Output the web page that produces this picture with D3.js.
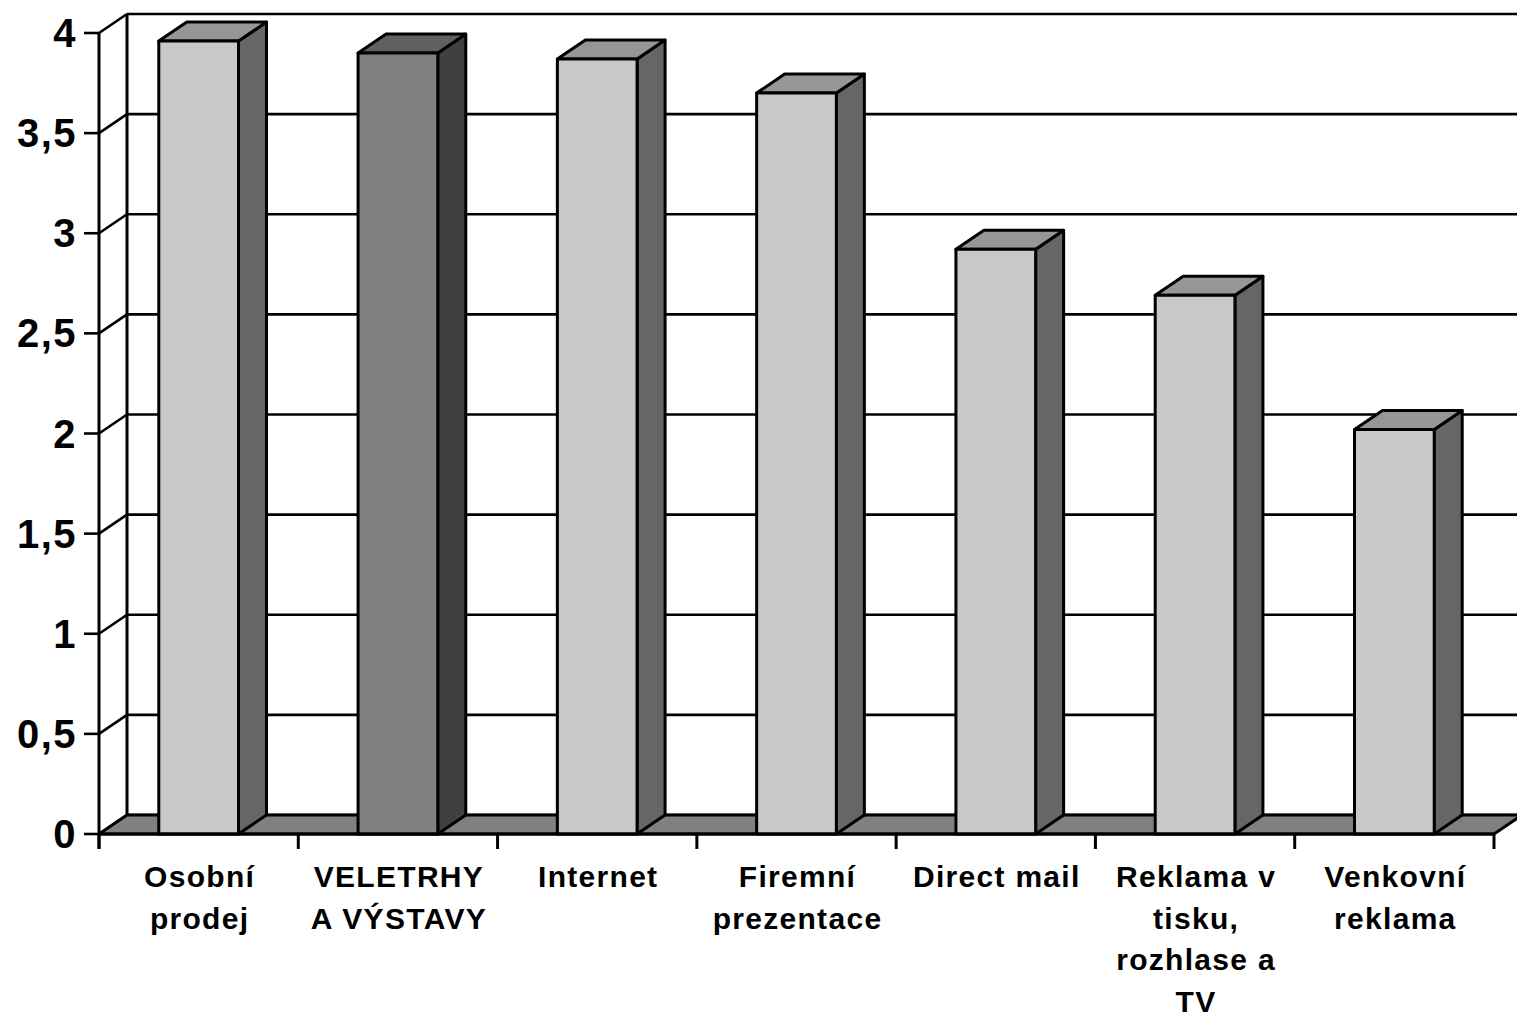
<!DOCTYPE html>
<html>
<head>
<meta charset="utf-8">
<script src="https://cdn.jsdelivr.net/npm/d3@7"></script>
<style>
  html, body { margin: 0; padding: 0; background: #fff; }
  svg { display: block; }
  text { font-family: "Liberation Sans", Arial, sans-serif; font-weight: bold; fill: #000; }
</style>
</head>
<body>
<svg id="chart" width="1517" height="1017"></svg>
<script>
// Categories (label lines) and their values
const categories = [
  ["Osobní", "prodej"],
  ["VELETRHY", "A VÝSTAVY"],
  ["Internet"],
  ["Firemní", "prezentace"],
  ["Direct mail"],
  ["Reklama v", "tisku,", "rozhlase a", "TV"],
  ["Venkovní", "reklama"]
];
const values = [3.96, 3.9, 3.87, 3.7, 2.92, 2.69, 2.02];
const highlighted = [false, true, false, false, false, false, false];
const yTicks = [0, 0.5, 1, 1.5, 2, 2.5, 3, 3.5, 4];
const yTickLabels = ["0", "0,5", "1", "1,5", "2", "2,5", "3", "3,5", "4"];

const svg = d3.select("#chart");

// Front plane geometry and 3D depth offset
const plotLeft = 99, plotRight = 1494, plotBottom = 834, plotTop = 33;
const DX = 28, DY = -19;

const keys = categories.map((c, i) => String(i));
const x = d3.scaleBand().domain(keys).range([plotLeft, plotRight]).paddingInner(0.6).paddingOuter(0.3);
const y = d3.scaleLinear().domain([0, 4]).range([plotBottom, plotTop]);
const step = x.step();

const pal = {
  normal: { front: "#c8c8c8", top: "#969696", side: "#666666" },
  hi: { front: "#808080", top: "#606060", side: "#404040" }
};
const SW = 3;

// Back wall: gridlines and left edge
const back = svg.append("g");
back.selectAll("line.grid").data(yTicks).join("line")
  .attr("x1", plotLeft + DX).attr("x2", 1540)
  .attr("y1", d => y(d) + DY).attr("y2", d => y(d) + DY)
  .attr("stroke", "#000").attr("stroke-width", 2.6);
back.append("line")
  .attr("x1", plotLeft + DX).attr("x2", plotLeft + DX)
  .attr("y1", y(4) + DY).attr("y2", y(0) + DY)
  .attr("stroke", "#000").attr("stroke-width", SW);

// Side wall diagonals at each tick
back.selectAll("line.diag").data(yTicks).join("line")
  .attr("x1", plotLeft).attr("y1", d => y(d))
  .attr("x2", plotLeft + DX).attr("y2", d => y(d) + DY)
  .attr("stroke", "#000").attr("stroke-width", 2.6);

// Floor
svg.append("polygon")
  .attr("points", [[plotLeft, y(0)], [plotRight, y(0)], [plotRight + DX, y(0) + DY], [plotLeft + DX, y(0) + DY]].join(" "))
  .attr("fill", "#808080").attr("stroke", "#000").attr("stroke-width", SW).attr("stroke-linejoin", "round");

// Bars
const bars = svg.append("g");
values.forEach((v, i) => {
  const c = highlighted[i] ? pal.hi : pal.normal;
  const x0 = x(String(i)), x1 = x0 + x.bandwidth();
  const y0 = y(0), y1 = y(v);
  const g = bars.append("g").attr("stroke", "#000").attr("stroke-width", SW).attr("stroke-linejoin", "round");
  g.append("polygon")
    .attr("points", [[x1, y0], [x1 + DX, y0 + DY], [x1 + DX, y1 + DY], [x1, y1]].join(" "))
    .attr("fill", c.side);
  g.append("polygon")
    .attr("points", [[x0, y1], [x1, y1], [x1 + DX, y1 + DY], [x0 + DX, y1 + DY]].join(" "))
    .attr("fill", c.top);
  g.append("rect")
    .attr("x", x0).attr("y", y1).attr("width", x1 - x0).attr("height", y0 - y1)
    .attr("fill", c.front);
});

// Value axis
svg.append("line")
  .attr("x1", plotLeft).attr("x2", plotLeft).attr("y1", y(4)).attr("y2", y(0) + 15)
  .attr("stroke", "#000").attr("stroke-width", SW);
svg.selectAll("line.ytick").data(yTicks).join("line")
  .attr("x1", plotLeft - 15).attr("x2", plotLeft)
  .attr("y1", d => y(d)).attr("y2", d => y(d))
  .attr("stroke", "#000").attr("stroke-width", 2.6);
svg.selectAll("text.ylab").data(yTicks).join("text")
  .attr("x", plotLeft - 22).attr("y", d => y(d) + 14)
  .attr("text-anchor", "end")
  .style("font-size", "40px").style("letter-spacing", "1.5px")
  .text((d, i) => yTickLabels[i]);

// Category axis
const bounds = d3.range(categories.length + 1).map(i => plotLeft + i * step);
svg.selectAll("line.xtick").data(bounds).join("line")
  .attr("x1", d => d).attr("x2", d => d).attr("y1", y(0)).attr("y2", y(0) + 15)
  .attr("stroke", "#000").attr("stroke-width", SW);
svg.append("line")
  .attr("x1", plotLeft).attr("x2", plotRight).attr("y1", y(0)).attr("y2", y(0))
  .attr("stroke", "#000").attr("stroke-width", SW);

const labels = svg.selectAll("text.xlab").data(categories).join("text")
  .attr("text-anchor", "middle")
  .style("font-size", "30px").style("letter-spacing", "1.3px");
labels.each(function(lines, i) {
  const cx = x(String(i)) + x.bandwidth() / 2 + 1;
  d3.select(this).selectAll("tspan").data(lines).join("tspan")
    .attr("x", cx).attr("y", (d, j) => 887 + j * 41.5)
    .text(d => d);
});
</script>
</body>
</html>
